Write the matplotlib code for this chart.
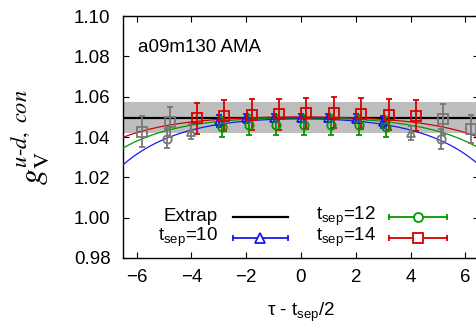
import numpy as np
import matplotlib
matplotlib.use('Agg')
import matplotlib.pyplot as plt

plt.rcParams['font.family'] = ['Liberation Sans', 'DejaVu Sans']
plt.rcParams['mathtext.fontset'] = 'custom'
plt.rcParams['mathtext.rm'] = 'Liberation Sans'
plt.rcParams['mathtext.it'] = 'Liberation Sans:italic'

# extrapolated value and error (grey band)
extrap_val = 1.0495
extrap_err = 0.0077

# tsep = 10 (blue)
x10 = [-3, -2, -1, 0, 1, 2, 3]
y10 = [1.0478, 1.0493, 1.0493, 1.0494, 1.0493, 1.0491, 1.0476]
e10 = [0.0030, 0.0022, 0.0021, 0.0021, 0.0021, 0.0022, 0.0030]
x10_out = [-4, 4]
y10_out = [1.0427, 1.0420]
e10_out = [0.0035, 0.0035]

# tsep = 12 (green)
x12 = [-3, -2, -1, 0, 1, 2, 3]
y12 = [1.0449, 1.0460, 1.0461, 1.0460, 1.0460, 1.0458, 1.0449]
e12 = [0.0048, 0.0049, 0.0049, 0.0049, 0.0049, 0.0049, 0.0048]
x12_out = [-5, 5]
y12_out = [1.0391, 1.0391]
e12_out = [0.0047, 0.0050]

# tsep = 14 (red)
x14 = [-4, -3, -2, -1, 0, 1, 2, 3, 4]
y14 = [1.0493, 1.0505, 1.0510, 1.0513, 1.0518, 1.0520, 1.0515, 1.0510, 1.0505]
e14 = [0.0076, 0.0076, 0.0076, 0.0076, 0.0077, 0.0077, 0.0076, 0.0076, 0.0076]
x14_out = [-6, -5, 5, 6]
y14_out = [1.0427, 1.0473, 1.0488, 1.0439]
e14_out = [0.0076, 0.0074, 0.0077, 0.0071]

# fit curves: A - B*cosh(k*x)
fit_k = 0.47
fit_A = {10: 1.0514, 12: 1.0511, 14: 1.0510}
fit_B = {10: 0.00237, 12: 0.00156, 14: 0.00105}

c_blue = '#1a1aee'
c_green = '#009a00'
c_red = '#d80000'
c_grey = '#777777'
fs = 13.5

fig = plt.figure(figsize=(4.77, 3.29), dpi=100)
ax = fig.add_axes([123 / 477, 71 / 329, 356 / 477, 242 / 329])

xlo, xhi = -6.5, 6.5
ax.axhspan(extrap_val - extrap_err, extrap_val + extrap_err, color='#bebebe', lw=0, zorder=1)
ax.axhline(extrap_val, color='black', lw=1.6, zorder=2)

xx = np.linspace(xlo, xhi, 300)
for ts, col in [(10, c_blue), (12, c_green), (14, c_red)]:
    ax.plot(xx, fit_A[ts] - fit_B[ts] * np.cosh(fit_k * xx), color=col, lw=0.9, zorder=3)

ekw = dict(capsize=2.3, elinewidth=1.3, capthick=1.3, fillstyle='none', mew=1.3, ls='none', zorder=4)
series = [
    (x10_out, y10_out, e10_out, 0.0, '^', c_grey, 6),
    (x12_out, y12_out, e12_out, 0.1, 'o', c_grey, 6),
    (x14_out, y14_out, e14_out, 0.2, 's', c_grey, 7),
    (x10, y10, e10, 0.0, '^', c_blue, 6),
    (x12, y12, e12, 0.1, 'o', c_green, 6),
    (x14, y14, e14, 0.2, 's', c_red, 7),
]
for xs, ys, es, sh, m, col, ms in series:
    ax.errorbar(np.array(xs) + sh, ys, yerr=es, marker=m, color=col, ms=ms, **ekw)

ax.set_xlim(xlo, xhi)
ax.set_ylim(0.98, 1.10)
ax.set_xticks([-6, -4, -2, 0, 2, 4, 6])
ax.set_yticks([0.98, 1.00, 1.02, 1.04, 1.06, 1.08, 1.10])
ax.set_yticklabels(['%.2f' % v for v in ax.get_yticks()])
ax.tick_params(direction='in', top=True, right=True, length=4.5, width=0.8, labelsize=fs)
ax.tick_params(axis='y', pad=9)
ax.tick_params(axis='x', pad=8)
for s in ax.spines.values():
    s.set_linewidth(1.0)

ax.text(0.042, 0.87, 'a09m130 AMA', transform=ax.transAxes, fontsize=fs, va='center')

ax.set_xlabel(r'τ - t$_{\rm sep}$/2', fontsize=fs)
ax.xaxis.set_label_coords(0.5, -0.175)
ax.set_ylabel(r'$g_{\rm V}^{u‐d,\ con}$', fontsize=23, math_fontfamily='stix')
ax.yaxis.set_label_coords(-0.20, 0.5)

# legend drawn gnuplot style (text, then sample)
leg = [
    ('Extrap', None, 'black', 0.267, 0.309, 0.463, 0.171),
    (r't$_{\rm sep}$=10', '^', c_blue, 0.267, 0.309, 0.463, 0.084),
    (r't$_{\rm sep}$=12', 'o', c_green, 0.711, 0.747, 0.910, 0.171),
    (r't$_{\rm sep}$=14', 's', c_red, 0.711, 0.747, 0.910, 0.084),
]
for lab, m, col, xt, x0, x1, yy in leg:
    ax.text(xt, yy, lab, transform=ax.transAxes, ha='right', va='center', fontsize=fs)
    if m is None:
        ax.plot([x0, x1], [yy, yy], color=col, lw=1.6, transform=ax.transAxes, zorder=5)
    else:
        ax.plot([x0, x1], [yy, yy], color=col, lw=1.3, transform=ax.transAxes, zorder=5)
        ax.plot([x0, x1], [yy, yy], ls='none', marker='|', ms=5, mew=1.3, color=col,
                transform=ax.transAxes, zorder=5)
        ax.plot([(x0 + x1) / 2], [yy], ls='none', marker=m, ms=7 if m == 's' else 6.5,
                mfc='white', mec=col, mew=1.3, transform=ax.transAxes, zorder=6)

fig.savefig('out.png', dpi=100)
